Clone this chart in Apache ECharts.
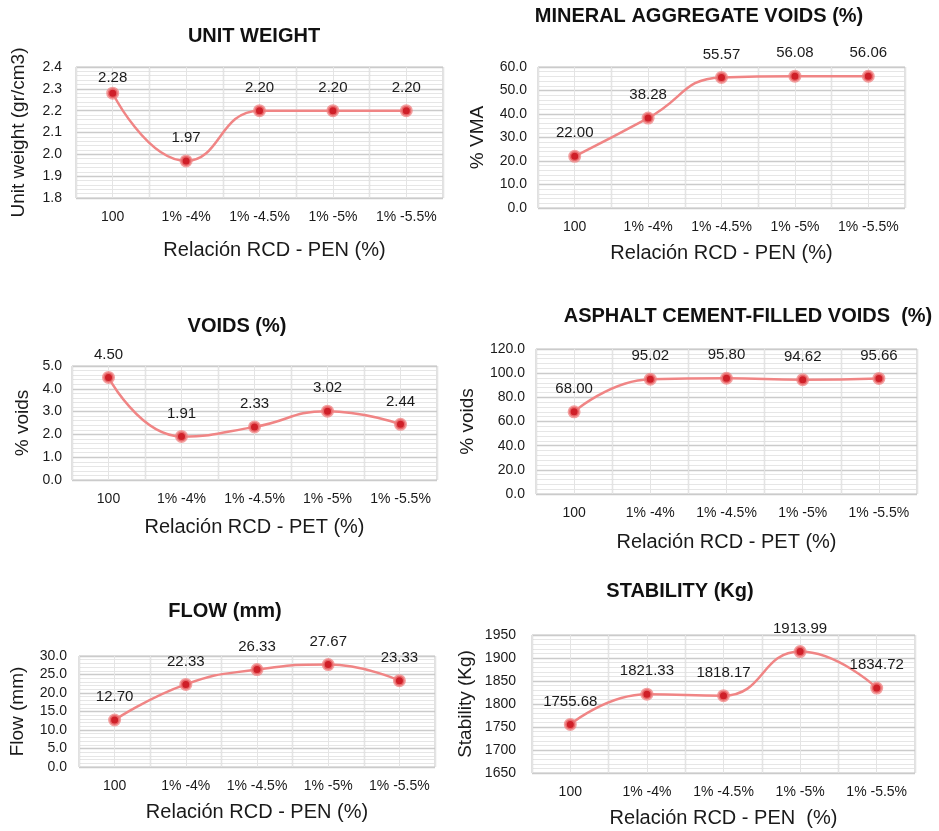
<!DOCTYPE html>
<html><head><meta charset="utf-8">
<script src="https://cdn.jsdelivr.net/npm/echarts@6/dist/echarts.min.js"></script>
<style>html,body{margin:0;padding:0;background:#fff}#c{width:939px;height:831px}</style>
</head><body><div id="c"></div>
<script>
var categories = ['100', '1% -4%', '1% -4.5%', '1% -5%', '1% -5.5%'];
var unitWeight = [2.28, 1.97, 2.20, 2.20, 2.20];
var vma = [22.00, 38.28, 55.57, 56.08, 56.06];
var voids = [4.50, 1.91, 2.33, 3.02, 2.44];
var vfa = [68.00, 95.02, 95.80, 94.62, 95.66];
var flow = [12.70, 22.33, 26.33, 27.67, 23.33];
var stability = [1755.68, 1821.33, 1818.17, 1913.99, 1834.72];

var titles = ['UNIT WEIGHT', 'MINERAL AGGREGATE VOIDS (%)', 'VOIDS (%)', 'ASPHALT CEMENT-FILLED VOIDS  (%)', 'FLOW (mm)', 'STABILITY (Kg)'];
var yNames = ['Unit weight (gr/cm3)', '% VMA', '% voids', '% voids', 'Flow (mm)', 'Stability (Kg)'];
var xNames = ['Relación RCD - PEN (%)', 'Relación RCD - PEN (%)', 'Relación RCD - PET (%)', 'Relación RCD - PET (%)', 'Relación RCD - PEN (%)', 'Relación RCD - PEN  (%)'];
var seriesData = [unitWeight, vma, voids, vfa, flow, stability];

var yMin = [1.8, 0, 0, 0, 0, 1650];
var yMax = [2.4, 60, 5, 120, 30, 1950];
var yInt = [0.1, 10, 1, 20, 5, 50];
var yDec = [1, 1, 1, 1, 1, 0];

var grids = [
  {left: 76, top: 67, width: 367, height: 131},
  {left: 538, top: 67, width: 367, height: 141},
  {left: 72, top: 366, width: 365, height: 114},
  {left: 536, top: 349, width: 381, height: 145},
  {left: 79, top: 656, width: 356, height: 111},
  {left: 532, top: 635, width: 383, height: 138}
];
var titlePos = [[254, 37], [699, 17], [237, 327], [748, 317], [225, 612], [680, 592]];
var yNameGap = [48, 51, 40, 59, 52, 57];
var xNameGap = [42, 35, 37, 38, 35, 35];
var xNamePad = [[0, 0, 0, 30], [0, 0, 0, 0], [0, 0, 0, 0], [0, 0, 0, 0], [0, 0, 0, 0], [0, 0, 0, 0]];
var yLabMargin = [14, 11, 10, 11, 12, 16];
// label distance overrides (chart index, point index, distance)
var labelDistOverride = {'0-0': 1};

var FONT = '"Liberation Sans", Arial, Helvetica, sans-serif';
var TXT = '#1a1a1a';

var option = {
  backgroundColor: '#ffffff',
  animation: false,
  title: [], grid: [], xAxis: [], yAxis: [], series: []
};

for (var i = 0; i < 6; i++) {
  option.title.push({
    text: titles[i], left: titlePos[i][0], top: titlePos[i][1] - 11, textAlign: 'center', padding: 0,
    textStyle: {fontFamily: FONT, fontSize: 20, fontWeight: 'bold', color: '#111'}
  });
  var g = grids[i];
  option.grid.push({left: g.left, top: g.top, width: g.width, height: g.height, show: true,
    borderColor: '#cbcbcb', borderWidth: 1, backgroundColor: '#ffffff', containLabel: false});
  option.xAxis.push({
    type: 'category', gridIndex: i, data: categories, boundaryGap: true,
    axisLine: {show: false}, axisTick: {show: false},
    axisLabel: {fontFamily: FONT, fontSize: 14, color: TXT, margin: 12, interval: 0},
    splitLine: {show: true, interval: 0, lineStyle: {color: '#cbcbcb', width: 1.3}},
    name: xNames[i], nameLocation: 'middle', nameGap: xNameGap[i],
    nameTextStyle: {fontFamily: FONT, fontSize: 20, color: TXT, padding: xNamePad[i]}
  });
  option.xAxis.push({
    type: 'value', gridIndex: i, min: 0, max: 10, interval: 1, position: 'top',
    axisLine: {show: false}, axisTick: {show: false}, axisLabel: {show: false},
    splitLine: {show: true, lineStyle: {color: '#e4e4e4', width: 1}}
  });
  (function (dec) {
    option.yAxis.push({
      type: 'value', gridIndex: i, min: yMin[i], max: yMax[i], interval: yInt[i],
      axisLine: {show: false}, axisTick: {show: false},
      axisLabel: {fontFamily: FONT, fontSize: 14, color: TXT, margin: yLabMargin[i],
        formatter: function (v) { return v.toFixed(dec); }},
      splitLine: {show: true, lineStyle: {color: '#cbcbcb', width: 1.3}},
      minorTick: {show: false, splitNumber: 5},
      minorSplitLine: {show: true, lineStyle: {color: '#e6e6e6', width: 1}},
      name: yNames[i], nameLocation: 'middle', nameGap: yNameGap[i], nameRotate: 90,
      nameTextStyle: {fontFamily: FONT, fontSize: 19, color: TXT}
    });
  })(yDec[i]);
  var data = seriesData[i].map(function (v, j) {
    var key = i + '-' + j;
    if (labelDistOverride[key] !== undefined) {
      return {value: v, label: {distance: labelDistOverride[key]}};
    }
    return v;
  });
  option.series.push({
    type: 'line', xAxisIndex: i * 2, yAxisIndex: i, data: data,
    smooth: 0.5, symbol: 'circle', symbolSize: 10,
    lineStyle: {color: '#f08585', width: 2.5},
    itemStyle: {color: '#cf1f28', borderColor: 'rgba(240,130,130,0.75)', borderWidth: 3},
    label: {show: true, position: 'top', distance: 9, fontFamily: FONT, fontSize: 15, color: TXT,
      formatter: function (p) { return Number(p.value).toFixed(2); }},
    z: 5
  });
}

var chart = echarts.init(document.getElementById('c'), null, {renderer: 'canvas'});
chart.setOption(option);
</script></body></html>
